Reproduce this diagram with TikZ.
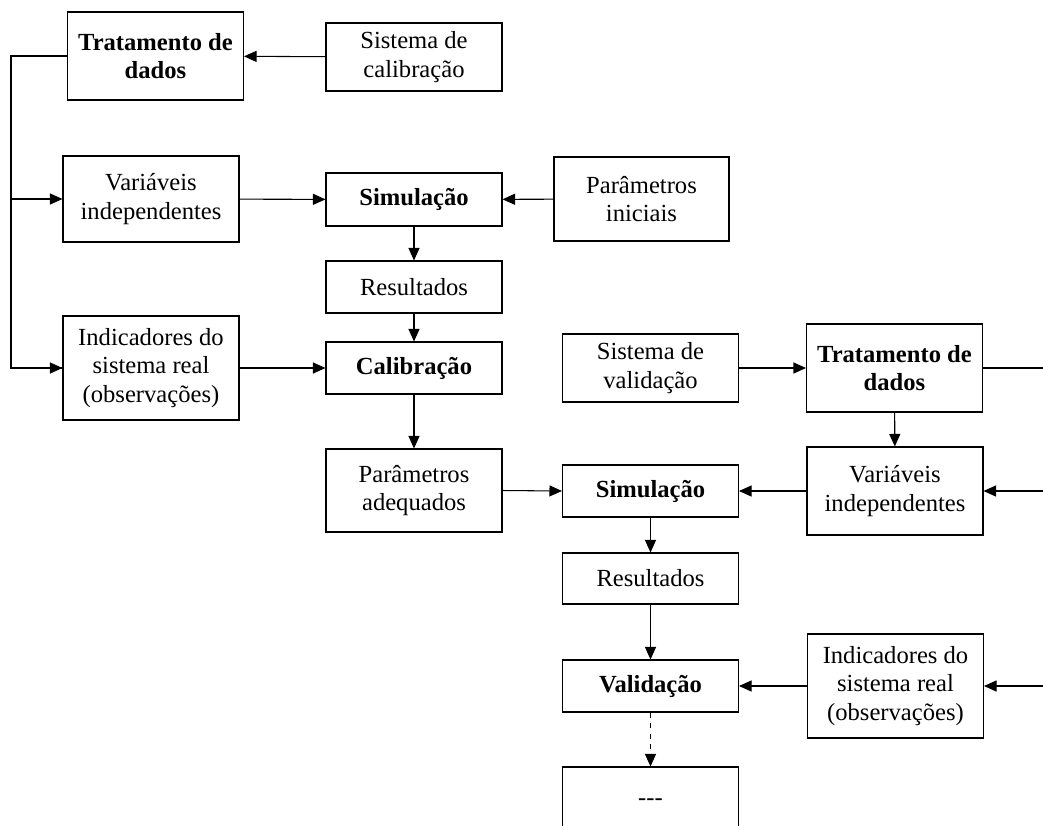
\documentclass[tikz,border=0pt]{standalone}
\usepackage{fontspec}
\setmainfont{Liberation Serif}
\usetikzlibrary{arrows.meta}

\tikzset{
    blk/.style={draw, line width=0.6pt, minimum width=3.52cm, align=center, inner sep=2pt,
        font=\fontsize{14}{16.4}\selectfont},
    blkb/.style={blk, font=\fontsize{14}{16.4}\selectfont\bfseries},
}

\begin{document}
\begin{tikzpicture}[>={Triangle[length=0.25cm,width=0.22cm]}, line width=0.6pt]
    \clip (0,0) rectangle (20.86,-16.5);

    % calibracao
    \node[blkb, minimum height=1.76cm] (trat1) at (3.11,-1.12) {Tratamento de\\dados};
    \node[blk, minimum height=1.36cm] (sistcal) at (8.28,-1.14) {Sistema de\\calibração};
    \node[blk, minimum height=1.72cm] (var1) at (3.02,-3.98) {Variáveis\\independentes};
    \node[blkb, minimum height=1.06cm] (sim1) at (8.28,-3.99) {Simulação};
    \node[blk, minimum height=1.68cm, minimum width=3.5cm] (parini) at (12.83,-3.98) {Parâmetros\\iniciais};
    \node[blk, minimum height=1.04cm] (res1) at (8.28,-5.74) {Resultados};
    \node[blk, minimum height=2.08cm] (ind1) at (3.02,-7.36) {Indicadores do\\sistema real\\(observações)};
    \node[blkb, minimum height=1.04cm] (cal) at (8.28,-7.36) {Calibração};
    \node[blk, minimum height=1.66cm] (parad) at (8.28,-9.81) {Parâmetros\\adequados};

    % validacao
    \node[blk, minimum height=1.36cm] (sistval) at (13.01,-7.36) {Sistema de\\validação};
    \node[blkb, minimum height=1.76cm] (trat2) at (17.89,-7.36) {Tratamento de\\dados};
    \node[blk, minimum height=1.76cm] (var2) at (17.90,-9.82) {Variáveis\\independentes};
    \node[blkb, minimum height=1.04cm] (sim2) at (13.01,-9.82) {Simulação};
    \node[blk, minimum height=1.02cm] (res2) at (13.01,-11.57) {Resultados};
    \node[blkb, minimum height=1.04cm] (valid) at (13.01,-13.72) {Validação};
    \node[blk, minimum height=2.08cm] (ind2) at (17.91,-13.72) {Indicadores do\\sistema real\\(observações)};
    \node[blk, minimum height=1.40cm] (fim) at (13.01,-16.04) {-{}-{}-};

    \coordinate (fb) at (0.22,-1.12);
    \coordinate (e1) at (20.86,-7.36);
    \coordinate (e2) at (20.86,-9.82);
    \coordinate (e3) at (20.86,-13.72);

    \draw[->] (sistcal) -- (trat1);
    \draw (trat1.west) -- (fb) |- (ind1.west);
    \draw[->] (fb |- ind1.west) -- (ind1.west);
    \draw[->] (fb |- var1.west) -- (var1.west);
    \draw[->] (var1) -- (sim1);
    \draw[->] (parini) -- (sim1);
    \draw[->] (sim1) -- (res1);
    \draw[->] (res1) -- (cal);
    \draw[->] (ind1) -- (cal);
    \draw[->] (cal) -- (parad);
    \draw[->] (parad.east) -- (sim2.west);

    \draw[->] (sistval) -- (trat2);
    \draw (trat2.east) -- (e1);
    \draw[->] (trat2) -- (var2);
    \draw[->] (e2) -- (var2.east);
    \draw[->] (var2) -- (sim2);
    \draw[->] (sim2) -- (res2);
    \draw[->] (res2) -- (valid);
    \draw[->] (e3) -- (ind2.east);
    \draw[->] (ind2) -- (valid);
    \draw[->, dashed] (valid) -- (fim);
\end{tikzpicture}
\end{document}
